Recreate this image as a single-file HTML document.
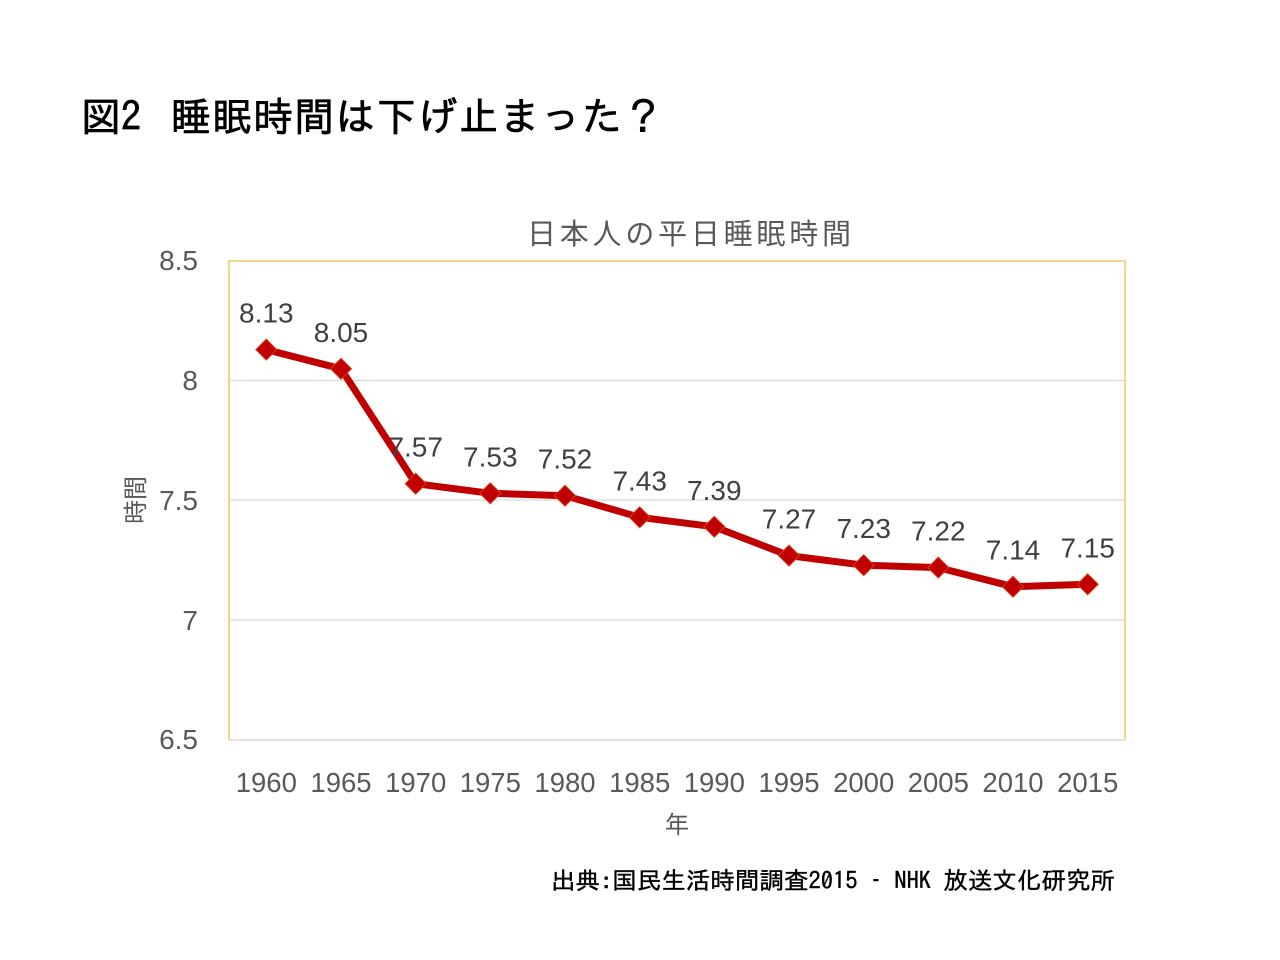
<!DOCTYPE html>
<html><head><meta charset="utf-8"><style>
html,body{margin:0;padding:0;background:#fff;}
svg{display:block;}
</style></head><body>
<svg width="1280" height="960" viewBox="0 0 1280 960" xmlns="http://www.w3.org/2000/svg">
<rect width="1280" height="960" fill="#fff"/>
<!-- Title -->
<text x="81" y="131" font-family="IPAGothic, 'Noto Sans CJK JP', sans-serif" font-size="40" fill="#000" stroke="#000" stroke-width="0.7" textLength="60" lengthAdjust="spacingAndGlyphs">図2</text>
<text x="171" y="131" font-family="IPAGothic, 'Noto Sans CJK JP', sans-serif" font-size="40" fill="#000" stroke="#000" stroke-width="0.7" textLength="492" lengthAdjust="spacing">睡眠時間は下げ止まった？</text>

<!-- Chart title -->
<text x="689" y="244" text-anchor="middle" font-family="'Noto Sans CJK JP', sans-serif" font-size="29" fill="#595959" textLength="324" lengthAdjust="spacing">日本人の平日睡眠時間</text>

<!-- Gridlines -->
<g stroke="#d9d9d9" stroke-width="1.3">
<line x1="229" y1="380.5" x2="1125" y2="380.5"/>
<line x1="229" y1="500" x2="1125" y2="500"/>
<line x1="229" y1="620" x2="1125" y2="620"/>
</g>
<!-- Plot border -->
<polyline points="229,740 229,261 1125,261 1125,740" fill="none" stroke="#f4c562" stroke-width="1.5"/>
<line x1="229" y1="740" x2="1125" y2="740" stroke="#d9d9d9" stroke-width="1.5"/>

<!-- Y tick labels -->
<g font-family="'Liberation Sans', sans-serif" font-size="28" fill="#595959" text-anchor="end">
<text x="198" y="270">8.5</text>
<text x="198" y="390">8</text>
<text x="198" y="510">7.5</text>
<text x="198" y="630">7</text>
<text x="198" y="749">6.5</text>
</g>
<!-- Y axis title -->
<text transform="translate(144,500) rotate(-90)" text-anchor="middle" font-family="'Noto Sans CJK JP', sans-serif" font-size="24" fill="#595959">時間</text>

<!-- X tick labels -->
<g font-family="'Liberation Sans', sans-serif" font-size="27.5" fill="#595959" text-anchor="middle">
<text x="266.3" y="792">1960</text>
<text x="341" y="792">1965</text>
<text x="415.7" y="792">1970</text>
<text x="490.3" y="792">1975</text>
<text x="565" y="792">1980</text>
<text x="639.7" y="792">1985</text>
<text x="714.3" y="792">1990</text>
<text x="789" y="792">1995</text>
<text x="863.7" y="792">2000</text>
<text x="938.3" y="792">2005</text>
<text x="1013" y="792">2010</text>
<text x="1087.7" y="792">2015</text>
</g>
<text x="677" y="833" text-anchor="middle" font-family="'Noto Sans CJK JP', sans-serif" font-size="24" fill="#595959">年</text>

<!-- Series line -->
<polyline fill="none" stroke="#c00000" stroke-width="7" stroke-linejoin="round" points="266.3,349.6 341,368.8 415.7,483.7 490.3,493.3 565,495.7 639.7,517.3 714.3,526.8 789,555.6 863.7,565.2 938.3,567.6 1013,586.7 1087.7,584.3"/>
<!-- Markers -->
<g fill="#c00000" stroke="#d8401c" stroke-width="1">
<polygon points="266.3,339.1 276.8,349.6 266.3,360.1 255.8,349.6"/>
<polygon points="341,358.3 351.5,368.8 341,379.3 330.5,368.8"/>
<polygon points="415.7,473.2 426.2,483.7 415.7,494.2 405.2,483.7"/>
<polygon points="490.3,482.8 500.8,493.3 490.3,503.8 479.8,493.3"/>
<polygon points="565,485.2 575.5,495.7 565,506.2 554.5,495.7"/>
<polygon points="639.7,506.8 650.2,517.3 639.7,527.8 629.2,517.3"/>
<polygon points="714.3,516.3 724.8,526.8 714.3,537.3 703.8,526.8"/>
<polygon points="789,545.1 799.5,555.6 789,566.1 778.5,555.6"/>
<polygon points="863.7,554.7 874.2,565.2 863.7,575.7 853.2,565.2"/>
<polygon points="938.3,557.1 948.8,567.6 938.3,578.1 927.8,567.6"/>
<polygon points="1013,576.2 1023.5,586.7 1013,597.2 1002.5,586.7"/>
<polygon points="1087.7,573.8 1098.2,584.3 1087.7,594.8 1077.2,584.3"/>
</g>

<!-- Data labels -->
<g font-family="'Liberation Sans', sans-serif" font-size="28" fill="#404040" text-anchor="middle">
<text x="266.3" y="322.6">8.13</text>
<text x="341" y="341.8">8.05</text>
<text x="415.7" y="456.7">7.57</text>
<text x="490.3" y="466.3">7.53</text>
<text x="565" y="468.7">7.52</text>
<text x="639.7" y="490.3">7.43</text>
<text x="714.3" y="499.8">7.39</text>
<text x="789" y="528.6">7.27</text>
<text x="863.7" y="538.2">7.23</text>
<text x="938.3" y="540.6">7.22</text>
<text x="1013" y="559.7">7.14</text>
<text x="1087.7" y="557.3">7.15</text>
</g>

<!-- Source -->
<text x="551" y="889" font-family="IPAGothic, 'Noto Sans CJK JP', sans-serif" font-size="24" fill="#000" stroke="#000" stroke-width="0.4" textLength="564" lengthAdjust="spacingAndGlyphs">出典:国民生活時間調査2015 – NHK 放送文化研究所</text>
</svg>
</body></html>
